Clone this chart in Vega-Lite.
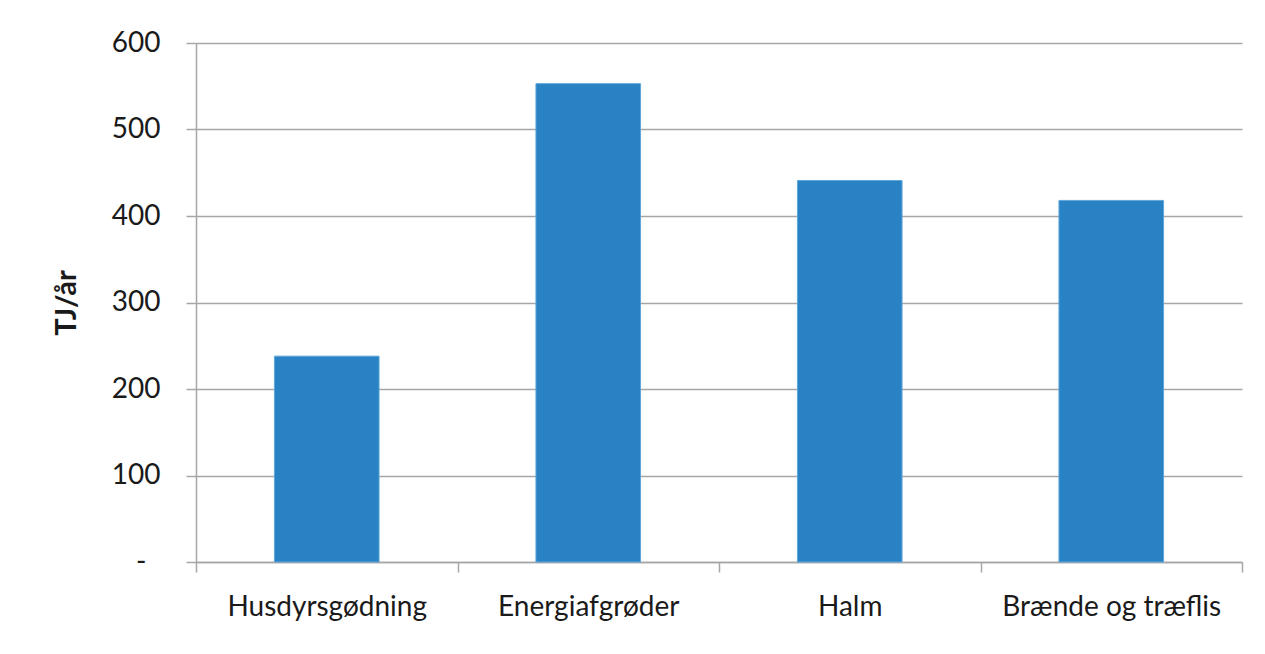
{
  "$schema": "https://vega.github.io/schema/vega-lite/v6.json",
  "autosize": {"type": "none"},
  "width": 1046,
  "height": 519,
  "padding": {"left": 196, "top": 43, "right": 23, "bottom": 92},
  "background": "white",
  "data": {
    "values": [
      {"kilde": "Husdyrsgødning", "tj": 238},
      {"kilde": "Energiafgrøder", "tj": 553},
      {"kilde": "Halm", "tj": 441},
      {"kilde": "Brænde og træflis", "tj": 418}
    ]
  },
  "mark": {"type": "bar", "color": "#2882c3", "stroke": "#5ea6da", "strokeWidth": 1, "width": {"band": 0.4}},
  "encoding": {
    "x": {
      "field": "kilde",
      "type": "nominal",
      "sort": null,
      "scale": {"paddingInner": 0, "paddingOuter": 0},
      "axis": {
        "title": null,
        "labelAngle": 0,
        "labelLimit": 0,
        "tickBand": "extent",
        "tickSize": 10,
        "tickColor": "#a6a6a6",
        "tickWidth": 1.5,
        "domainColor": "#a6a6a6",
        "domainWidth": 1.5,
        "labelFont": "Lato",
        "labelFontSize": 28,
        "labelColor": "#1a1a1a",
        "labelPadding": 21,
        "grid": false
      }
    },
    "y": {
      "field": "tj",
      "type": "quantitative",
      "scale": {"domain": [0, 600], "nice": false},
      "axis": {
        "title": "TJ/år",
        "titleFont": "Lato",
        "titleFontSize": 29,
        "titleFontWeight": "bold",
        "titleColor": "#1a1a1a",
        "titlePadding": 30,
        "values": [0, 100, 200, 300, 400, 500, 600],
        "labelExpr": "datum.value === 0 ? '-' : datum.label",
        "labelFont": "Lato",
        "labelFontSize": 28,
        "labelColor": "#1a1a1a",
        "labelPadding": {"condition": {"test": "datum.value === 0", "value": 40}, "value": 26},
        "tickSize": 10,
        "tickColor": "#a6a6a6",
        "tickWidth": 1.5,
        "domainColor": "#a6a6a6",
        "domainWidth": 1.5,
        "grid": true,
        "gridColor": "#a6a6a6",
        "gridWidth": 1.5
      }
    }
  },
  "config": {
    "view": {"stroke": null}
  }
}
